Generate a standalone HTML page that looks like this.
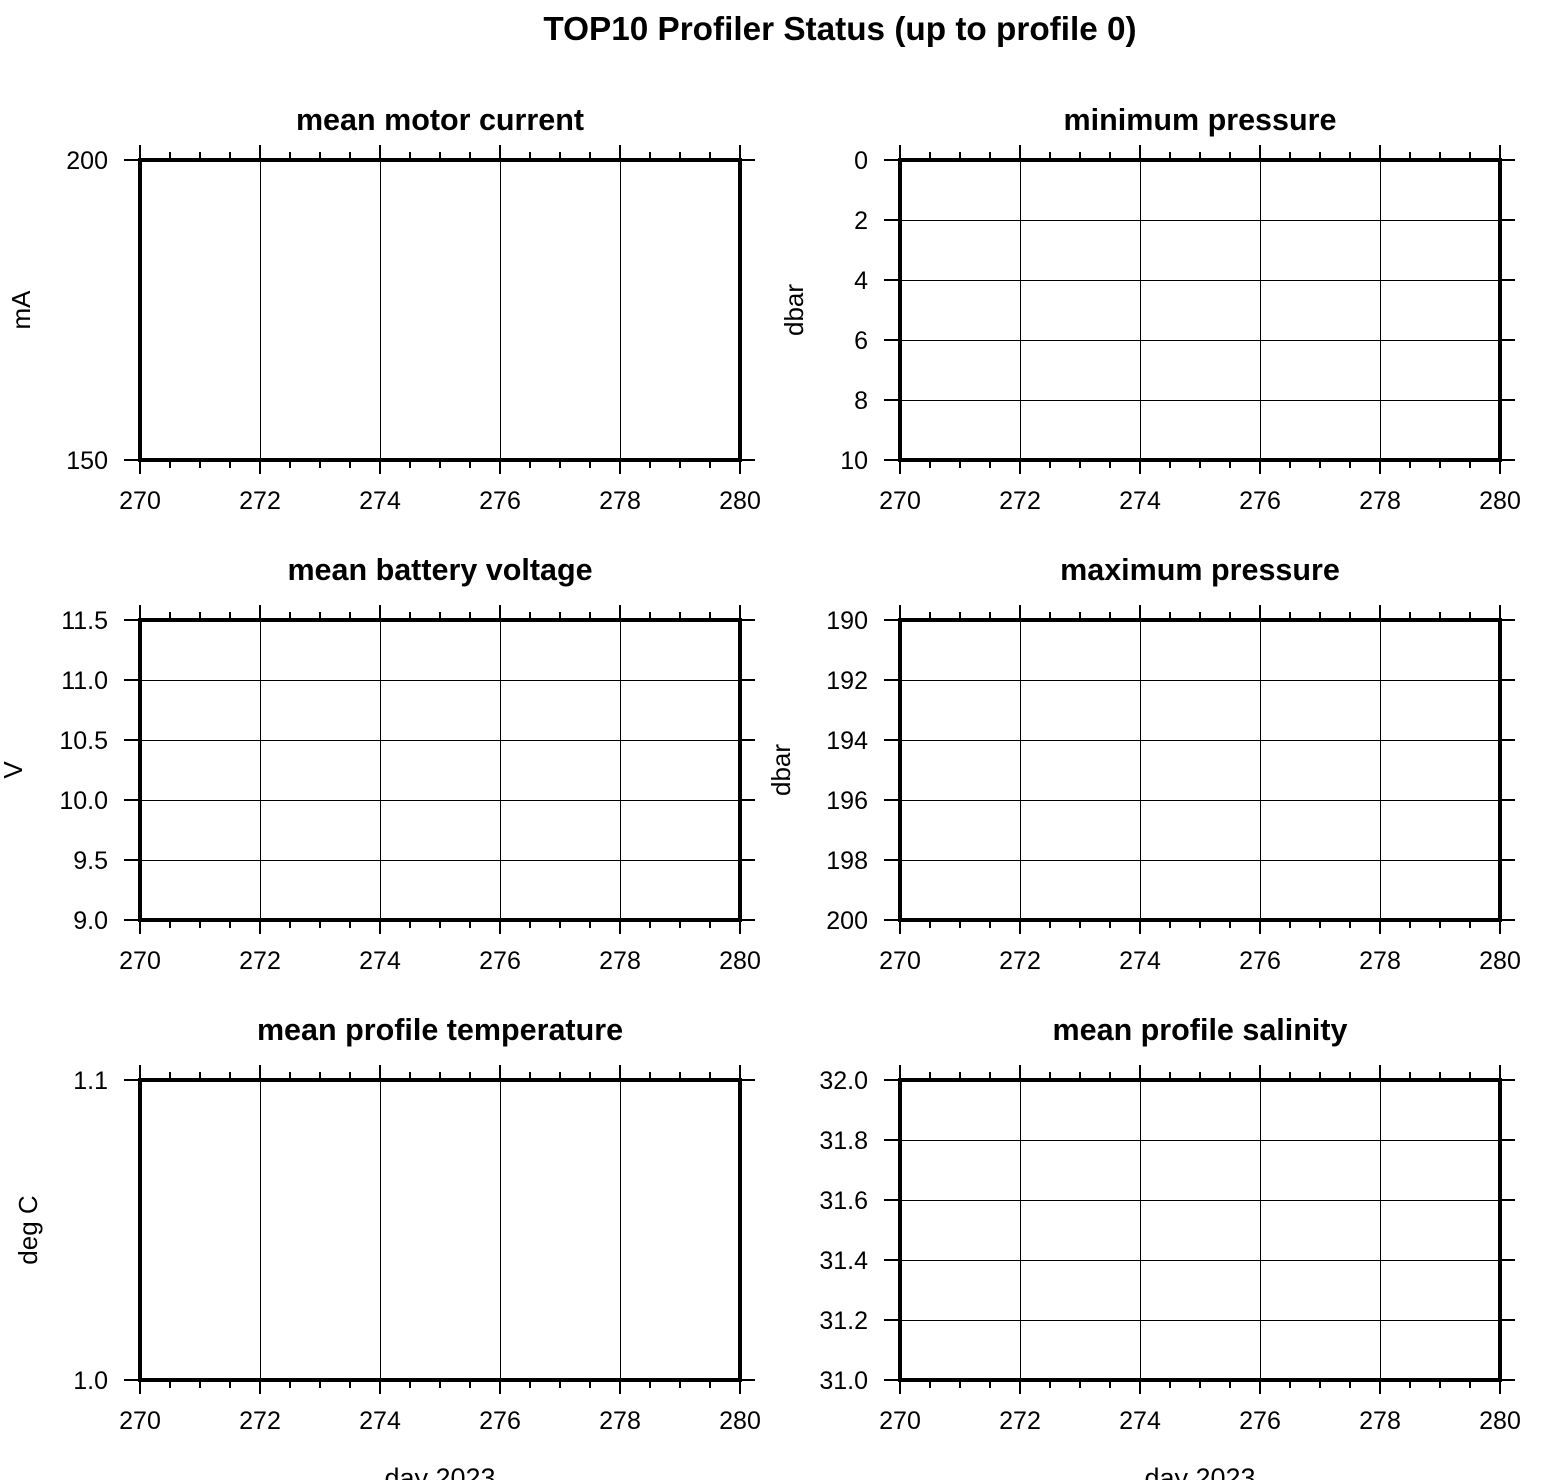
<!DOCTYPE html>
<html>
<head>
<meta charset="utf-8">
<style>
html,body{margin:0;padding:0;background:#fff;}
svg{display:block;}
text{font-family:"Liberation Sans",Arial,Helvetica,sans-serif;fill:#000;}
.yl{font-size:25px;text-anchor:end;}
.xl{font-size:25px;text-anchor:middle;}
.st{font-size:30.5px;font-weight:bold;text-anchor:middle;}
.al{font-size:26px;text-anchor:middle;}
.dl{font-size:27px;text-anchor:middle;}
path,rect{shape-rendering:crispEdges;}
</style>
</head>
<body>
<svg width="1560" height="1480" viewBox="0 0 1560 1480" xmlns="http://www.w3.org/2000/svg">
<rect width="1560" height="1480" fill="#fff"/>
<text x="840" y="40" style="font-size:33.3px;font-weight:bold;text-anchor:middle;">TOP10 Profiler Status (up to profile 0)</text>

<!-- ===== Panel: mean motor current ===== -->
<g transform="translate(140,160)">
  <path transform="translate(0.5,0.5)" d="M120,0V300M240,0V300M360,0V300M480,0V300" stroke="#000" stroke-width="1" fill="none"/>
  <path d="M0,0V-15M120,0V-15M240,0V-15M360,0V-15M480,0V-15M600,0V-15M0,300V314M120,300V314M240,300V314M360,300V314M480,300V314M600,300V314" stroke="#000" stroke-width="2" fill="none"/>
  <path d="M30,0V-8M60,0V-8M90,0V-8M150,0V-8M180,0V-8M210,0V-8M270,0V-8M300,0V-8M330,0V-8M390,0V-8M420,0V-8M450,0V-8M510,0V-8M540,0V-8M570,0V-8M30,300V308M60,300V308M90,300V308M150,300V308M180,300V308M210,300V308M270,300V308M300,300V308M330,300V308M390,300V308M420,300V308M450,300V308M510,300V308M540,300V308M570,300V308" stroke="#000" stroke-width="2" fill="none"/>
  <path d="M-16,0H0M-16,300H0M600,0H615M600,300H615" stroke="#000" stroke-width="2" fill="none"/>
  <rect x="0" y="0" width="600" height="300" fill="none" stroke="#000" stroke-width="4"/>
  <text class="yl" x="-32" y="9">200</text>
  <text class="yl" x="-32" y="309">150</text>
  <text class="xl" x="0" y="349">270</text><text class="xl" x="120" y="349">272</text><text class="xl" x="240" y="349">274</text><text class="xl" x="360" y="349">276</text><text class="xl" x="480" y="349">278</text><text class="xl" x="600" y="349">280</text>
  <text class="st" x="300" y="-30">mean motor current</text>
</g>
<text class="al" transform="translate(30,310) rotate(-90)">mA</text>

<!-- ===== Panel: minimum pressure ===== -->
<g transform="translate(900,160)">
  <path transform="translate(0.5,0.5)" d="M120,0V300M240,0V300M360,0V300M480,0V300M0,60H600M0,120H600M0,180H600M0,240H600" stroke="#000" stroke-width="1" fill="none"/>
  <path d="M0,0V-15M120,0V-15M240,0V-15M360,0V-15M480,0V-15M600,0V-15M0,300V314M120,300V314M240,300V314M360,300V314M480,300V314M600,300V314" stroke="#000" stroke-width="2" fill="none"/>
  <path d="M30,0V-8M60,0V-8M90,0V-8M150,0V-8M180,0V-8M210,0V-8M270,0V-8M300,0V-8M330,0V-8M390,0V-8M420,0V-8M450,0V-8M510,0V-8M540,0V-8M570,0V-8M30,300V308M60,300V308M90,300V308M150,300V308M180,300V308M210,300V308M270,300V308M300,300V308M330,300V308M390,300V308M420,300V308M450,300V308M510,300V308M540,300V308M570,300V308" stroke="#000" stroke-width="2" fill="none"/>
  <path d="M-16,0H0M-16,60H0M-16,120H0M-16,180H0M-16,240H0M-16,300H0M600,0H615M600,60H615M600,120H615M600,180H615M600,240H615M600,300H615" stroke="#000" stroke-width="2" fill="none"/>
  <rect x="0" y="0" width="600" height="300" fill="none" stroke="#000" stroke-width="4"/>
  <text class="yl" x="-32" y="9">0</text>
  <text class="yl" x="-32" y="69">2</text>
  <text class="yl" x="-32" y="129">4</text>
  <text class="yl" x="-32" y="189">6</text>
  <text class="yl" x="-32" y="249">8</text>
  <text class="yl" x="-32" y="309">10</text>
  <text class="xl" x="0" y="349">270</text><text class="xl" x="120" y="349">272</text><text class="xl" x="240" y="349">274</text><text class="xl" x="360" y="349">276</text><text class="xl" x="480" y="349">278</text><text class="xl" x="600" y="349">280</text>
  <text class="st" x="300" y="-30">minimum pressure</text>
</g>
<text class="al" transform="translate(803,310) rotate(-90)">dbar</text>

<!-- ===== Panel: mean battery voltage ===== -->
<g transform="translate(140,620)">
  <path transform="translate(0.5,0.5)" d="M120,0V300M240,0V300M360,0V300M480,0V300M0,60H600M0,120H600M0,180H600M0,240H600" stroke="#000" stroke-width="1" fill="none"/>
  <path d="M0,0V-15M120,0V-15M240,0V-15M360,0V-15M480,0V-15M600,0V-15M0,300V314M120,300V314M240,300V314M360,300V314M480,300V314M600,300V314" stroke="#000" stroke-width="2" fill="none"/>
  <path d="M30,0V-8M60,0V-8M90,0V-8M150,0V-8M180,0V-8M210,0V-8M270,0V-8M300,0V-8M330,0V-8M390,0V-8M420,0V-8M450,0V-8M510,0V-8M540,0V-8M570,0V-8M30,300V308M60,300V308M90,300V308M150,300V308M180,300V308M210,300V308M270,300V308M300,300V308M330,300V308M390,300V308M420,300V308M450,300V308M510,300V308M540,300V308M570,300V308" stroke="#000" stroke-width="2" fill="none"/>
  <path d="M-16,0H0M-16,60H0M-16,120H0M-16,180H0M-16,240H0M-16,300H0M600,0H615M600,60H615M600,120H615M600,180H615M600,240H615M600,300H615" stroke="#000" stroke-width="2" fill="none"/>
  <rect x="0" y="0" width="600" height="300" fill="none" stroke="#000" stroke-width="4"/>
  <text class="yl" x="-32" y="9">11.5</text>
  <text class="yl" x="-32" y="69">11.0</text>
  <text class="yl" x="-32" y="129">10.5</text>
  <text class="yl" x="-32" y="189">10.0</text>
  <text class="yl" x="-32" y="249">9.5</text>
  <text class="yl" x="-32" y="309">9.0</text>
  <text class="xl" x="0" y="349">270</text><text class="xl" x="120" y="349">272</text><text class="xl" x="240" y="349">274</text><text class="xl" x="360" y="349">276</text><text class="xl" x="480" y="349">278</text><text class="xl" x="600" y="349">280</text>
  <text class="st" x="300" y="-40">mean battery voltage</text>
</g>
<text class="al" transform="translate(22,770) rotate(-90)">V</text>

<!-- ===== Panel: maximum pressure ===== -->
<g transform="translate(900,620)">
  <path transform="translate(0.5,0.5)" d="M120,0V300M240,0V300M360,0V300M480,0V300M0,60H600M0,120H600M0,180H600M0,240H600" stroke="#000" stroke-width="1" fill="none"/>
  <path d="M0,0V-15M120,0V-15M240,0V-15M360,0V-15M480,0V-15M600,0V-15M0,300V314M120,300V314M240,300V314M360,300V314M480,300V314M600,300V314" stroke="#000" stroke-width="2" fill="none"/>
  <path d="M30,0V-8M60,0V-8M90,0V-8M150,0V-8M180,0V-8M210,0V-8M270,0V-8M300,0V-8M330,0V-8M390,0V-8M420,0V-8M450,0V-8M510,0V-8M540,0V-8M570,0V-8M30,300V308M60,300V308M90,300V308M150,300V308M180,300V308M210,300V308M270,300V308M300,300V308M330,300V308M390,300V308M420,300V308M450,300V308M510,300V308M540,300V308M570,300V308" stroke="#000" stroke-width="2" fill="none"/>
  <path d="M-16,0H0M-16,60H0M-16,120H0M-16,180H0M-16,240H0M-16,300H0M600,0H615M600,60H615M600,120H615M600,180H615M600,240H615M600,300H615" stroke="#000" stroke-width="2" fill="none"/>
  <rect x="0" y="0" width="600" height="300" fill="none" stroke="#000" stroke-width="4"/>
  <text class="yl" x="-32" y="9">190</text>
  <text class="yl" x="-32" y="69">192</text>
  <text class="yl" x="-32" y="129">194</text>
  <text class="yl" x="-32" y="189">196</text>
  <text class="yl" x="-32" y="249">198</text>
  <text class="yl" x="-32" y="309">200</text>
  <text class="xl" x="0" y="349">270</text><text class="xl" x="120" y="349">272</text><text class="xl" x="240" y="349">274</text><text class="xl" x="360" y="349">276</text><text class="xl" x="480" y="349">278</text><text class="xl" x="600" y="349">280</text>
  <text class="st" x="300" y="-40">maximum pressure</text>
</g>
<text class="al" transform="translate(790,770) rotate(-90)">dbar</text>

<!-- ===== Panel: mean profile temperature ===== -->
<g transform="translate(140,1080)">
  <path transform="translate(0.5,0.5)" d="M120,0V300M240,0V300M360,0V300M480,0V300" stroke="#000" stroke-width="1" fill="none"/>
  <path d="M0,0V-15M120,0V-15M240,0V-15M360,0V-15M480,0V-15M600,0V-15M0,300V314M120,300V314M240,300V314M360,300V314M480,300V314M600,300V314" stroke="#000" stroke-width="2" fill="none"/>
  <path d="M30,0V-8M60,0V-8M90,0V-8M150,0V-8M180,0V-8M210,0V-8M270,0V-8M300,0V-8M330,0V-8M390,0V-8M420,0V-8M450,0V-8M510,0V-8M540,0V-8M570,0V-8M30,300V308M60,300V308M90,300V308M150,300V308M180,300V308M210,300V308M270,300V308M300,300V308M330,300V308M390,300V308M420,300V308M450,300V308M510,300V308M540,300V308M570,300V308" stroke="#000" stroke-width="2" fill="none"/>
  <path d="M-16,0H0M-16,300H0M600,0H615M600,300H615" stroke="#000" stroke-width="2" fill="none"/>
  <rect x="0" y="0" width="600" height="300" fill="none" stroke="#000" stroke-width="4"/>
  <text class="yl" x="-32" y="9">1.1</text>
  <text class="yl" x="-32" y="309">1.0</text>
  <text class="xl" x="0" y="349">270</text><text class="xl" x="120" y="349">272</text><text class="xl" x="240" y="349">274</text><text class="xl" x="360" y="349">276</text><text class="xl" x="480" y="349">278</text><text class="xl" x="600" y="349">280</text>
  <text class="st" x="300" y="-40">mean profile temperature</text>
  <text class="dl" x="300" y="407">day 2023</text>
</g>
<text class="al" transform="translate(37,1230) rotate(-90)">deg C</text>

<!-- ===== Panel: mean profile salinity ===== -->
<g transform="translate(900,1080)">
  <path transform="translate(0.5,0.5)" d="M120,0V300M240,0V300M360,0V300M480,0V300M0,60H600M0,120H600M0,180H600M0,240H600" stroke="#000" stroke-width="1" fill="none"/>
  <path d="M0,0V-15M120,0V-15M240,0V-15M360,0V-15M480,0V-15M600,0V-15M0,300V314M120,300V314M240,300V314M360,300V314M480,300V314M600,300V314" stroke="#000" stroke-width="2" fill="none"/>
  <path d="M30,0V-8M60,0V-8M90,0V-8M150,0V-8M180,0V-8M210,0V-8M270,0V-8M300,0V-8M330,0V-8M390,0V-8M420,0V-8M450,0V-8M510,0V-8M540,0V-8M570,0V-8M30,300V308M60,300V308M90,300V308M150,300V308M180,300V308M210,300V308M270,300V308M300,300V308M330,300V308M390,300V308M420,300V308M450,300V308M510,300V308M540,300V308M570,300V308" stroke="#000" stroke-width="2" fill="none"/>
  <path d="M-16,0H0M-16,60H0M-16,120H0M-16,180H0M-16,240H0M-16,300H0M600,0H615M600,60H615M600,120H615M600,180H615M600,240H615M600,300H615" stroke="#000" stroke-width="2" fill="none"/>
  <rect x="0" y="0" width="600" height="300" fill="none" stroke="#000" stroke-width="4"/>
  <text class="yl" x="-32" y="9">32.0</text>
  <text class="yl" x="-32" y="69">31.8</text>
  <text class="yl" x="-32" y="129">31.6</text>
  <text class="yl" x="-32" y="189">31.4</text>
  <text class="yl" x="-32" y="249">31.2</text>
  <text class="yl" x="-32" y="309">31.0</text>
  <text class="xl" x="0" y="349">270</text><text class="xl" x="120" y="349">272</text><text class="xl" x="240" y="349">274</text><text class="xl" x="360" y="349">276</text><text class="xl" x="480" y="349">278</text><text class="xl" x="600" y="349">280</text>
  <text class="st" x="300" y="-40">mean profile salinity</text>
  <text class="dl" x="300" y="407">day 2023</text>
</g>
</svg>
</body>
</html>
